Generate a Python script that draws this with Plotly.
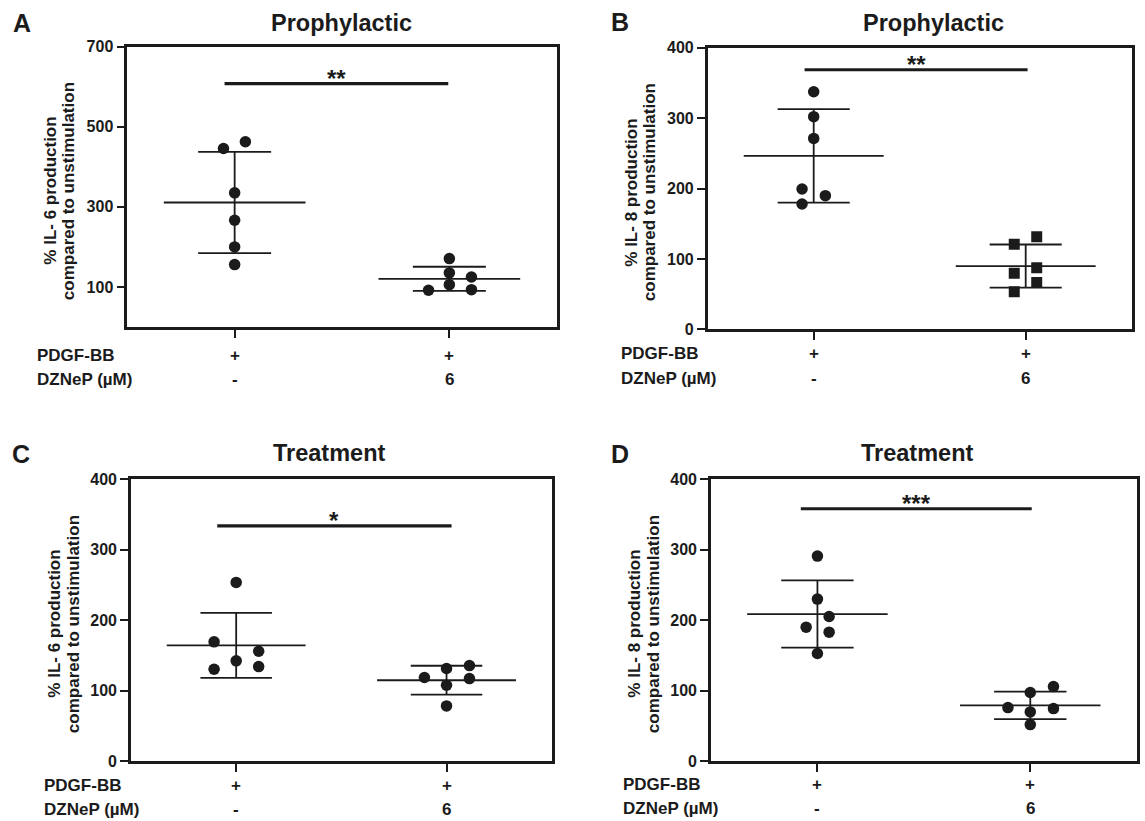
import numpy as np
import plotly.graph_objects as go

# ---------------- data ----------------
groups = [1, 2]
pdgf_row = ["+", "+"]
dznep_row = ["-", "6"]
row_names = ["PDGF-BB", "DZNeP (µM)"]

titles = ["Prophylactic", "Prophylactic", "Treatment", "Treatment"]
letters = ["A", "B", "C", "D"]
ytitle_l1 = ["% IL- 6 production", "% IL- 8 production", "% IL- 6 production", "% IL- 8 production"]
ytitle_l2 = "compared to unstimulation"

a_ctrl = [445.8, 462.5, 335.0, 266.7, 200.0, 155.8]
a_dz = [91.7, 170.8, 135.0, 125.0, 105.8, 93.3]
b_ctrl = [337.5, 302.0, 271.2, 199.3, 189.8, 178.0]
b_dz = [120.7, 131.6, 79.5, 87.6, 66.3, 53.5]
c_ctrl = [253.6, 169.2, 155.9, 142.2, 134.1, 130.3]
c_dz = [118.5, 131.3, 135.5, 117.0, 107.6, 78.2]
d_ctrl = [291.0, 229.9, 205.2, 190.0, 182.9, 152.6]
d_dz = [105.7, 97.2, 75.8, 74.4, 69.7, 51.7]

sig_values = [608.0, 368.7, 334.0, 358.2]
sig_labels = ["**", "**", "*", "***"]

y_max = [700, 400, 400, 400]
y_ticks = [[100, 300, 500, 700], [0, 100, 200, 300, 400], [0, 100, 200, 300, 400], [0, 100, 200, 300, 400]]

# ---------------- layout / style (not data) ----------------
W, H = 1145, 821
INK = "#1b1b1b"
FONT = "Liberation Sans, Arial, sans-serif"

# scatter jitter (horizontal spread of overlapping dots, in category units)
jit_a1 = [-0.052, 0.05, 0, 0, 0, 0]
jit_a2 = [-0.097, 0, 0, 0.103, 0, 0.103]
jit_b1 = [0, 0, 0, -0.055, 0.055, -0.055]
jit_b2 = [-0.054, 0.052, -0.054, 0.052, 0.052, -0.054]
jit_c1 = [0, -0.105, 0.107, 0, 0.107, -0.105]
jit_c2 = [-0.105, 0, 0.109, 0.109, 0, 0]
jit_d1 = [0, 0, 0.055, -0.053, 0.055, 0]
jit_d2 = [0.109, 0, -0.105, 0.109, 0, 0]

series = [
    (a_ctrl, a_dz, jit_a1, jit_a2, "circle"),
    (b_ctrl, b_dz, jit_b1, jit_b2, "square"),
    (c_ctrl, c_dz, jit_c1, jit_c2, "circle"),
    (d_ctrl, d_dz, jit_d1, jit_d2, "circle"),
]
sig_x = [(0.953, 1.995), (0.957, 2.009), (0.91, 2.024), (0.922, 2.007)]

# pixel boxes of the four plot areas: (left, right, top, bottom)
boxes = [
    (127.3, 556.7, 46.7, 327.0),
    (707.7, 1131.7, 47.7, 329.3),
    (131.0, 551.7, 479.3, 761.0),
    (711.0, 1136.7, 479.3, 761.0),
]
title_pos = [(341, 23), (933, 23), (329, 453), (917, 453)]
letter_pos = [(22, 23), (620, 22), (21, 454), (620, 454)]
row_y = [(355, 380), (353, 378), (785, 809), (784, 808)]
row_x = [35, 618.5, 41.5, 621]


def px(x):
    return x / W


def py(y):
    return 1 - y / H


fig = go.Figure()
annotations = []

for i, (ctrl, dz, j1, j2, sym) in enumerate(series):
    xa = "x" if i == 0 else f"x{i+1}"
    ya = "y" if i == 0 else f"y{i+1}"
    L, R, T, B = boxes[i]

    # points
    for g, vals, jit, s in [(groups[0], ctrl, j1, "circle"), (groups[1], dz, j2, sym)]:
        fig.add_trace(go.Scatter(
            x=[g + o for o in jit], y=vals, mode="markers", xaxis=xa, yaxis=ya,
            marker=dict(symbol=s, size=11.5 if s == "circle" else 11, color=INK, line=dict(width=0)),
            showlegend=False, hoverinfo="y"))

        m = float(np.mean(vals))
        sd = float(np.std(vals, ddof=1))
        # mean line
        fig.add_trace(go.Scatter(
            x=[g - 0.33, g + 0.33], y=[m, m], mode="lines", xaxis=xa, yaxis=ya,
            line=dict(color=INK, width=1.8), showlegend=False, hoverinfo="skip"))
        # SD whisker + caps
        fig.add_trace(go.Scatter(
            x=[g, g, None, g - 0.17, g + 0.17, None, g - 0.17, g + 0.17],
            y=[m - sd, m + sd, None, m + sd, m + sd, None, m - sd, m - sd],
            mode="lines", xaxis=xa, yaxis=ya,
            line=dict(color=INK, width=1.8), showlegend=False, hoverinfo="skip"))

    # significance bar
    x0, x1 = sig_x[i]
    fig.add_trace(go.Scatter(
        x=[x0, x1], y=[sig_values[i], sig_values[i]], mode="lines", xaxis=xa, yaxis=ya,
        line=dict(color=INK, width=3.2), showlegend=False, hoverinfo="skip"))
    annotations.append(dict(
        x=(x0 + x1) / 2, y=sig_values[i], xref=xa, yref=ya, text=sig_labels[i],
        showarrow=False, xanchor="center", yanchor="bottom", yshift=-10,
        font=dict(family=FONT, size=24, color=INK, weight="bold")))

    # axes
    ax_common = dict(showgrid=False, zeroline=False, showline=True, linecolor=INK,
                     linewidth=2.6, mirror=True, ticks="outside", ticklen=8,
                     tickwidth=2.4, tickcolor=INK, automargin=False)
    fig.update_layout(**{
        ("xaxis" if i == 0 else f"xaxis{i+1}"): dict(
            domain=[px(L), px(R)], anchor=ya, range=[0.5, 2.5],
            tickvals=groups, showticklabels=False, fixedrange=True, **ax_common),
        ("yaxis" if i == 0 else f"yaxis{i+1}"): dict(
            domain=[py(B), py(T)], anchor=xa, range=[0, y_max[i]],
            tickvals=y_ticks[i], ticktext=[str(v) for v in y_ticks[i]],
            tickfont=dict(family=FONT, size=16, color=INK, weight="bold"),
            fixedrange=True, **ax_common),
    })

    # y-axis title (two tight lines)
    yc = (T + B) / 2 + 4
    for off, txt in [(-76.5, ytitle_l1[i]), (-58.0, ytitle_l2)]:
        annotations.append(dict(
            x=px(L + off), y=py(yc), xref="paper", yref="paper", text=txt,
            textangle=-90, showarrow=False, xanchor="center", yanchor="middle",
            font=dict(family=FONT, size=17, color=INK, weight="bold")))

    # panel title and letter
    annotations.append(dict(
        x=px(title_pos[i][0]), y=py(title_pos[i][1]), xref="paper", yref="paper",
        text=titles[i], showarrow=False, xanchor="center", yanchor="middle",
        font=dict(family=FONT, size=23.5, color=INK, weight="bold")))
    annotations.append(dict(
        x=px(letter_pos[i][0]), y=py(letter_pos[i][1]), xref="paper", yref="paper",
        text=letters[i], showarrow=False, xanchor="center", yanchor="middle",
        font=dict(family=FONT, size=25, color=INK, weight="bold")))

    # condition rows
    for r, (name, labels) in enumerate([(row_names[0], pdgf_row), (row_names[1], dznep_row)]):
        yy = py(row_y[i][r])
        annotations.append(dict(
            x=px(row_x[i]), y=yy, xref="paper", yref="paper", text=name,
            showarrow=False, xanchor="left", yanchor="middle",
            font=dict(family=FONT, size=17, color=INK, weight="bold")))
        for g, lab in zip(groups, labels):
            annotations.append(dict(
                x=g, y=yy, xref=xa, yref="paper", text=lab,
                showarrow=False, xanchor="center", yanchor="middle",
                font=dict(family=FONT, size=17, color=INK, weight="bold")))

fig.update_layout(
    width=W, height=H, margin=dict(l=0, r=0, t=0, b=0, autoexpand=False),
    paper_bgcolor="white", plot_bgcolor="white",
    annotations=annotations, showlegend=False,
    font=dict(family=FONT, color=INK),
)

fig.write_html(
    "out.html",
    config={"displayModeBar": False},
    post_script="document.body.style.margin='0';document.body.style.overflow='hidden';",
)
